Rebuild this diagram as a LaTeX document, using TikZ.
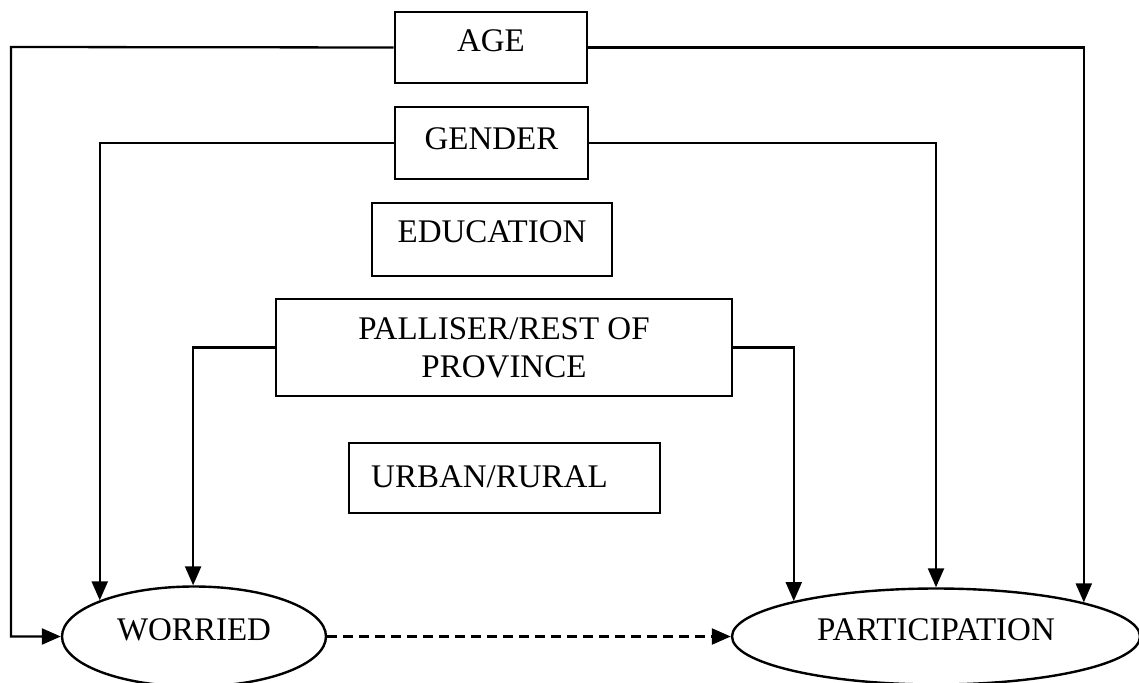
\documentclass[tikz,border=0pt]{standalone}
\usepackage{fontspec}
\setmainfont{Liberation Serif}
\usetikzlibrary{arrows.meta,shapes.geometric}
\begin{document}
\begin{tikzpicture}[x=1pt,y=-1pt,
  every node/.style={font=\fontsize{33}{38}\selectfont},
  factor/.style={draw,line width=2.6pt,rectangle,inner sep=0pt},
  outcome/.style={draw,line width=2.4pt,ellipse,inner sep=0pt},
  conn/.style={line width=2.3pt},
  arr/.style={conn,-{Triangle[length=19pt,width=16pt]}},
  dasharr/.style={arr,dash pattern=on 10pt off 6pt}]
\clip (0,0) rectangle (1139,682);
\useasboundingbox (0,0) rectangle (1139,682);
\fill[white] (0,0) rectangle (1139,682);
\node[factor,minimum width=192pt,minimum height=71pt,text height=19pt,text depth=10pt] (age) at (491,47.5) {AGE};
\node[factor,minimum width=193pt,minimum height=72pt,text height=21pt,text depth=9pt] (gender) at (491.5,143) {GENDER};
\node[factor,minimum width=240pt,minimum height=73pt,text height=17pt,text depth=12pt] (edu) at (492,239.5) {EDUCATION};
\node[factor,minimum width=456pt,minimum height=97pt,align=center] (pal) at (504,347.5) {PALLISER/REST OF\\PROVINCE};
\node[factor,minimum width=311pt,minimum height=70pt] (urban) at (504.5,478) {};
\node[anchor=base west,inner sep=0pt] (urbanlbl) at (371,487) {URBAN/RURAL};
\node[outcome,minimum width=264pt,minimum height=100pt,text height=18pt,text depth=11pt] (worried) at (194,636.5) {WORRIED};
\node[outcome,minimum width=408pt,minimum height=96pt,text height=18pt,text depth=11pt] (part) at (936,636.5) {PARTICIPATION};
\coordinate (ageL) at (11,47);
\draw[arr] (age.west) -- (ageL) |- (worried.west);
\draw[arr] (age.east) -| (part.13.5);
\draw[arr] (gender.west) -| (worried.159.5);
\draw[arr] (gender.east) -| (part.90);
\draw[arr] (pal.west) -| (worried.91);
\draw[arr] (pal.east) -| (part.166.5);
\draw[dasharr] (worried.east) -- (part.west);
\end{tikzpicture}
\end{document}
